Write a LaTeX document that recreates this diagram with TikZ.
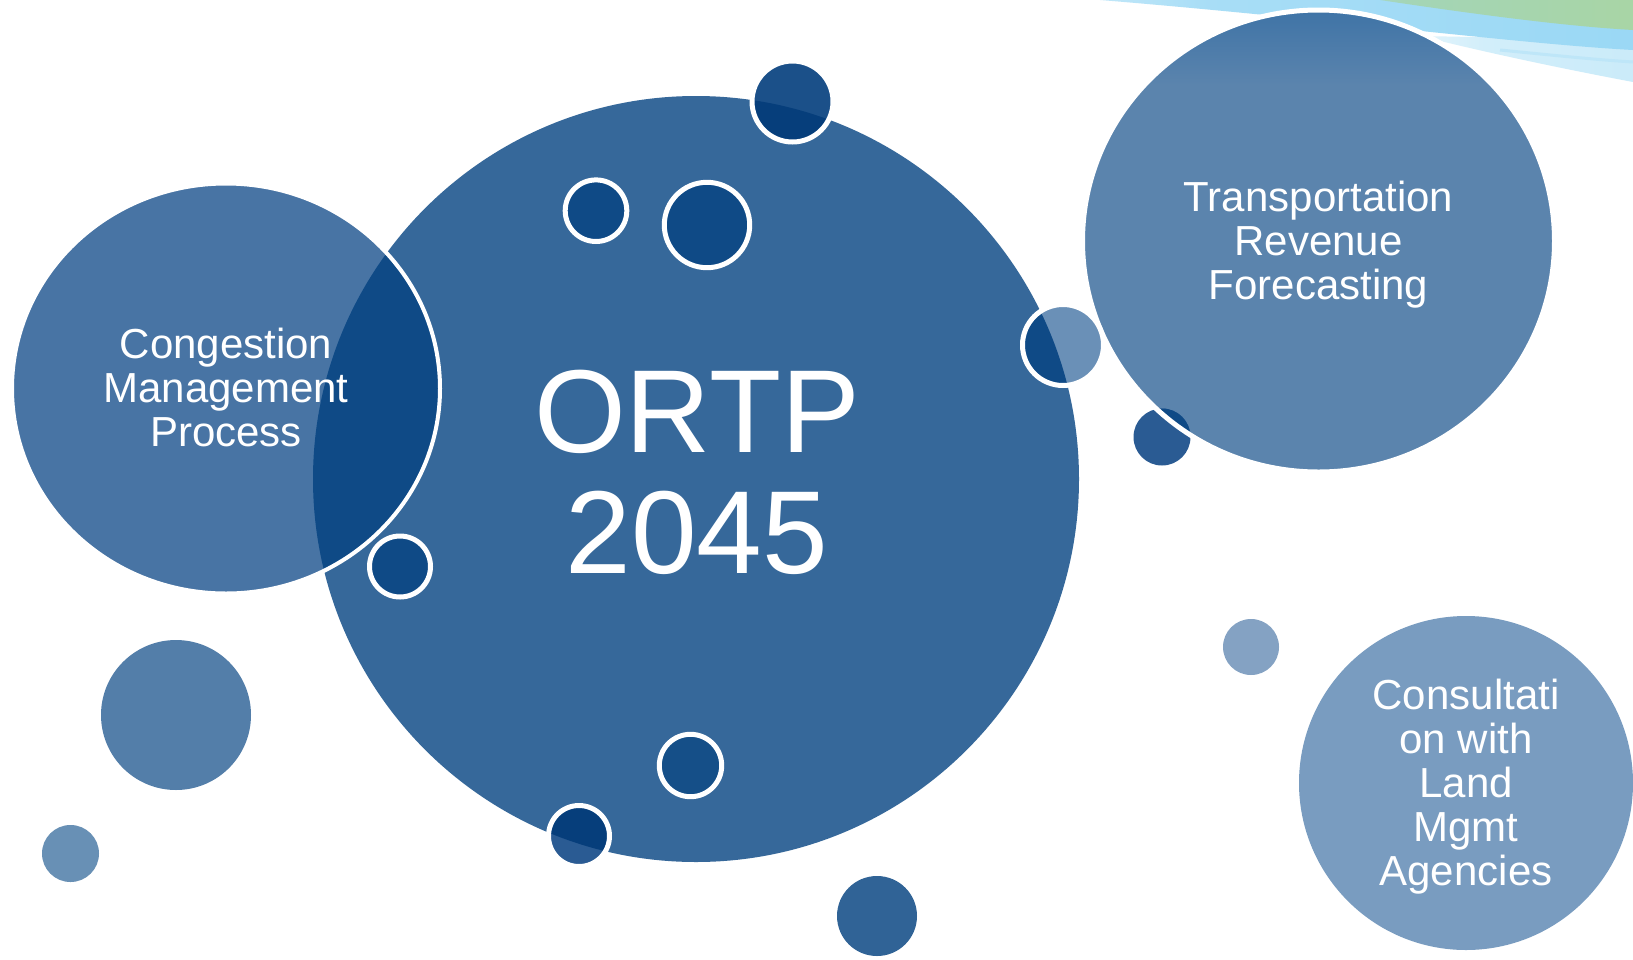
\documentclass[tikz,border=0pt]{standalone}
\usepackage{fontspec}
\setmainfont{Liberation Sans}
\definecolor{bigc}{HTML}{36689A}
\definecolor{congc}{HTML}{4874A4}
\definecolor{darkov}{HTML}{0F4A86}
\definecolor{deepov}{HTML}{063E7B}
\definecolor{transc}{HTML}{5B84AD}
\definecolor{transtop}{HTML}{3E73A6}
\definecolor{consc}{HTML}{799CC0}
\definecolor{swblue}{HTML}{92D5F4}
\definecolor{swgreen}{HTML}{ABD59C}
\definecolor{swlight}{HTML}{D2EEFA}
\definecolor{midblue}{HTML}{2A5B93}
\definecolor{plainA}{HTML}{537EA9}
\definecolor{plainB}{HTML}{6890B5}
\definecolor{plainC}{HTML}{84A2C3}
\definecolor{plainD}{HTML}{306396}
\definecolor{ringE}{HTML}{154F88}
\definecolor{ringF}{HTML}{1B5089}
\definecolor{ringG}{HTML}{6A90B7}
\pgfdeclarehorizontalshading{swbshade}{100bp}{color(0bp)=(white); color(35bp)=(swblue!80!white); color(100bp)=(swblue)}
\pgfdeclarehorizontalshading{swgshade}{100bp}{color(0bp)=(swblue!70!white); color(30bp)=(swgreen!70!swblue); color(100bp)=(swgreen)}
\pgfdeclarehorizontalshading{swlshade}{100bp}{color(0bp)=(white); color(40bp)=(swlight); color(100bp)=(swlight!80!swblue)}
\begin{document}
\begin{tikzpicture}[x=0.5pt,y=-0.5pt,
  lbl/.style={text=white, align=center, inner sep=0pt},
  ring/.style={draw=white, line width=2.5pt},
  smallfont/.style={font=\fontsize{21}{22}\selectfont},
  bigfont/.style={font=\fontsize{59}{60.5}\selectfont}]
\useasboundingbox (0,0) rectangle (1633,959);
\fill[white] (0,0) rectangle (1633,959);

% top-right swoosh
\shade[shading=swlshade]
  (1420,36) -- (1633,40) -- (1633,82) .. controls (1580,72) and (1500,56) .. (1420,36) -- cycle;
\shade[shading=swbshade]
  (1100,0) -- (1633,0) -- (1633,50) .. controls (1520,44) and (1320,18) .. (1100,0) -- cycle;
\shade[shading=swgshade]
  (1380,0) -- (1633,0) -- (1633,30) .. controls (1560,26) and (1460,12) .. (1380,0) -- cycle;
\draw[swblue!60!white, line width=1.5pt] (1500,50) .. controls (1560,56) and (1600,60) .. (1633,62);

% main circle
\fill[bigc] (696,479) circle[radius=383];

% congestion circle with dark overlap
\fill[congc] (226,388.5) ellipse[x radius=214, y radius=205];
\begin{scope}
  \clip (696,479) circle[radius=383];
  \fill[darkov] (226,388.5) ellipse[x radius=214, y radius=205];
\end{scope}
\draw[white, line width=2pt] (226,388.5) ellipse[x radius=214, y radius=205];

% transportation circle
\fill[transc] (1318.5,241) ellipse[x radius=236, y radius=231];
\begin{scope}
  \clip (1318.5,241) ellipse[x radius=236, y radius=231];
  \shade[top color=transtop, bottom color=transc] (1080,8) rectangle (1560,85);
\end{scope}
\fill[midblue] (1162,437) circle[radius=28.5];
\begin{scope}
  \clip (1318.5,241) ellipse[x radius=236, y radius=231];
  \fill[darkov] (1162,437) circle[radius=28.5];
\end{scope}
\draw[white, line width=2.5pt] (1318.5,241) ellipse[x radius=236, y radius=231];

% consultation circle
\fill[consc] (1466,783) circle[radius=167];

% plain small circles
\fill[plainA] (176,715) circle[radius=75];
\fill[plainB] (70.5,853.5) circle[radius=28.5];
\fill[plainC] (1251,647) circle[radius=28];
\fill[plainD] (877,916) circle[radius=40];

% ringed small circles
\fill[darkov] (596,210.7) circle[radius=30.8];
\draw[ring] (596,210.7) circle[radius=30.8];
\fill[darkov] (707,225) circle[radius=42.7];
\draw[ring] (707,225) circle[radius=42.7];
\fill[darkov] (400,566.5) circle[radius=30.5];
\draw[ring] (400,566.5) circle[radius=30.5];
\fill[ringE] (690.5,765.5) circle[radius=31.2];
\draw[ring] (690.5,765.5) circle[radius=31.2];

\fill[ringF] (792.5,101.5) circle[radius=40.5];
\begin{scope}
  \clip (696,479) circle[radius=383];
  \fill[deepov] (792.5,101.5) circle[radius=40.5];
\end{scope}
\draw[ring] (792.5,101.5) circle[radius=40.5];

\fill[midblue] (579,836) circle[radius=30.5];
\begin{scope}
  \clip (696,479) circle[radius=383];
  \fill[deepov] (579,836) circle[radius=30.5];
\end{scope}
\draw[ring] (579,836) circle[radius=30.5];

\fill[ringG] (1063,345) circle[radius=40.5];
\begin{scope}
  \clip (696,479) circle[radius=383];
  \fill[darkov] (1063,345) circle[radius=40.5];
\end{scope}
\draw[ring] (1063,345) circle[radius=40.5];

% labels
\node[lbl, smallfont] (cmp) at (226,387) {Congestion\\Management\\Process};
\node[lbl, smallfont] (trf) at (1318.5,244.6) {Transportation\\Revenue\\Forecasting};
\node[lbl, smallfont] (clm) at (1466,787) {Consultati\\on with\\Land\\Mgmt\\Agencies};
\node[lbl, bigfont] (ortp) at (697,472.5) {ORTP\\2045};
\end{tikzpicture}
\end{document}
